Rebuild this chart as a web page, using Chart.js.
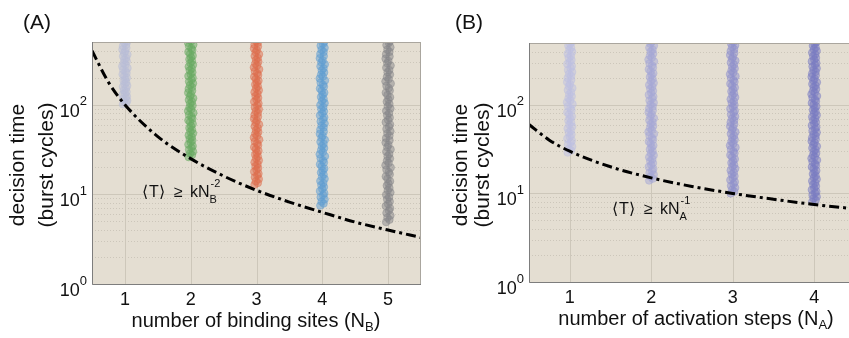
<!DOCTYPE html>
<html>
<head>
<meta charset="utf-8">
<script src="https://cdn.jsdelivr.net/npm/chart.js@4.4.1/dist/chart.umd.min.js"></script>
<style>
  html, body { margin: 0; padding: 0; background: #fff; overflow: hidden; }
  #wrap { position: relative; width: 849px; height: 338px; overflow: hidden; }
  canvas { position: absolute; top: 0; }
</style>
</head>
<body>
<div id="wrap">
  <canvas id="chartA" width="430" height="338" style="left:0"></canvas>
  <canvas id="chartB" width="430" height="338" style="left:430px"></canvas>
</div>
<script>
// ---- datos ----
const catA = [1, 2, 3, 4, 5];
const catB = [1, 2, 3, 4];
const xTicksA = ['1', '2', '3', '4', '5'];
const xTicksB = ['1', '2', '3', '4'];
const yExponents = [0, 1, 2];

// desplazamiento horizontal de los puntos dentro de cada franja
const jitter = [-0.03, 0.02, -0.01, 0.035, -0.025, 0.012, 0.03, -0.035, 0.0, 0.025, -0.015, 0.015, -0.03, 0.035,
  -0.005, 0.02, -0.02, 0.005, 0.03, -0.01, -0.035, 0.025, 0.01, -0.025, 0.04, -0.04, 0.008, -0.018, 0.028,
  -0.008, 0.018, -0.028, 0.038, -0.012, 0.004, -0.038, 0.022];

// tiempos de decisión, panel A (N_B = 1..5)
const timesA1 = [101, 104, 108, 111, 116, 120, 124, 130, 135, 139, 145, 152, 158, 163, 170, 178, 185, 192, 200, 209,
  218, 226, 236, 247, 256, 268, 280, 291, 305, 318, 332, 347, 362, 378, 395, 412, 430, 450, 470, 492, 510];
const timesA2 = [26, 27.5, 28.5, 30, 31.5, 33, 34.5, 36, 38, 40, 41.5, 43.5, 45.5, 48, 50, 52.5, 55, 58, 61, 64, 67,
  70, 73.5, 77, 81, 85, 89, 93, 98, 103, 108, 113, 118, 124, 130, 136, 143, 150, 157, 165, 173, 181, 190, 199, 209,
  219, 230, 241, 253, 265, 278, 292, 306, 321, 336, 352, 369, 387, 406, 426, 447, 468, 490, 512];
const timesA3 = [12.8, 13.4, 14, 14.8, 15.5, 16.3, 17, 17.9, 18.8, 19.7, 20.7, 21.7, 22.8, 23.9, 25.1, 26.4, 27.7, 29,
  30.5, 32, 33.6, 35.3, 37, 38.9, 40.8, 42.9, 45, 47.3, 49.6, 52, 54.7, 57.4, 60.3, 63.3, 66.5, 69.8, 73.3, 77, 80.8,
  84.8, 89, 93.5, 98, 103, 108, 114, 119, 125, 132, 138, 145, 152, 160, 168, 176, 185, 194, 204, 214, 225, 236, 248,
  260, 273, 287, 301, 316, 332, 349, 366, 384, 404, 424, 445, 467, 490, 514];
const timesA4 = [7.5, 7.9, 8.3, 8.8, 9.3, 9.8, 10.3, 10.9, 11.5, 12.1, 12.7, 13.4, 14.1, 14.9, 15.7, 16.6, 17.5, 18.4,
  19.4, 20.5, 21.6, 22.7, 24, 25.3, 26.6, 28, 29.6, 31.2, 32.8, 34.6, 36.5, 38.5, 40.5, 42.7, 45, 47.4, 50, 52.7, 55.5,
  58.5, 61.7, 65, 68.5, 72.2, 76, 80.2, 84.5, 89, 93.8, 98.9, 104, 110, 116, 122, 129, 136, 143, 151, 159, 167, 176,
  186, 196, 206, 217, 229, 241, 254, 268, 282, 297, 313, 330, 348, 367, 387, 408, 430, 453, 477, 503];
const timesA5 = [4.9, 5.2, 5.5, 5.8, 6.2, 6.6, 7, 7.4, 7.8, 8.3, 8.8, 9.3, 9.9, 10.5, 11.1, 11.8, 12.5, 13.2, 14, 14.9,
  15.8, 16.7, 17.7, 18.8, 19.9, 21.1, 22.4, 23.7, 25.1, 26.6, 28.2, 29.9, 31.7, 33.6, 35.6, 37.8, 40, 42.4, 45, 47.7,
  50.5, 53.6, 56.8, 60.2, 63.8, 67.6, 71.7, 76, 80.5, 85.4, 90.5, 95.9, 102, 108, 114, 121, 128, 136, 144, 153, 162,
  172, 182, 193, 204, 217, 230, 243, 258, 273, 290, 307, 326, 345, 366, 388, 411, 436, 462, 490, 515];

// tiempos de decisión, panel B (N_A = 1..4)
const timesB1 = [29, 30.5, 32, 33.8, 35.6, 37.5, 39.5, 41.6, 43.9, 46.2, 48.7, 51.4, 54.1, 57, 60.1, 63.4, 66.8, 70.4,
  74.2, 78.2, 82.4, 86.9, 91.6, 96.5, 102, 107, 113, 119, 125, 132, 139, 147, 155, 163, 172, 181, 191, 201, 212, 223,
  235, 248, 261, 275, 290, 306, 322, 340, 358, 377, 398, 419, 442, 466, 491, 515];
const timesB2 = [14, 14.7, 15.5, 16.3, 17.1, 18, 19, 20, 21, 22.1, 23.2, 24.4, 25.7, 27, 28.4, 29.9, 31.5, 33.1, 34.8,
  36.6, 38.5, 40.5, 42.6, 44.8, 47.2, 49.6, 52.2, 54.9, 57.8, 60.8, 64, 67.3, 70.8, 74.5, 78.4, 82.5, 86.8, 91.3, 96,
  101, 106, 112, 118, 124, 130, 137, 144, 152, 160, 168, 177, 186, 196, 206, 217, 228, 240, 252, 265, 279, 294, 309,
  325, 342, 360, 379, 399, 420, 442, 465, 489, 515];
const timesB3 = [10, 10.5, 11, 11.6, 12.2, 12.8, 13.5, 14.2, 14.9, 15.7, 16.5, 17.3, 18.2, 19.1, 20.1, 21.1, 22.2, 23.3,
  24.5, 25.8, 27.1, 28.5, 30, 31.5, 33.1, 34.8, 36.6, 38.5, 40.5, 42.6, 44.8, 47.1, 49.5, 52, 54.7, 57.5, 60.5, 63.6,
  66.9, 70.3, 73.9, 77.7, 81.7, 85.9, 90.3, 95, 99.9, 105, 110, 116, 122, 128, 135, 142, 149, 157, 165, 173, 182, 191,
  201, 211, 222, 233, 245, 258, 271, 285, 300, 315, 331, 348, 366, 385, 405, 426, 448, 471, 495, 515];
const timesB4 = [8, 8.4, 8.8, 9.2, 9.6, 10.1, 10.5, 11, 11.5, 12.1, 12.6, 13.2, 13.8, 14.5, 15.1, 15.8, 16.6, 17.3,
  18.1, 19, 19.9, 20.8, 21.7, 22.7, 23.8, 24.9, 26, 27.2, 28.5, 29.8, 31.2, 32.6, 34.1, 35.7, 37.3, 39, 40.8, 42.7,
  44.7, 46.7, 48.9, 51.1, 53.5, 55.9, 58.5, 61.2, 64, 67, 70, 73.3, 76.6, 80.2, 83.9, 87.7, 91.8, 96, 100, 105, 110,
  115, 120, 126, 132, 138, 144, 151, 158, 165, 172, 180, 189, 197, 207, 216, 226, 237, 248, 259, 271, 284, 297, 310,
  325, 340, 355, 372, 389, 407, 425, 445, 466, 487, 510];

// cota teórica <T> >= k N^-2 (A) y k N^-1 (B)
const boundAx = [0.5, 0.75, 1, 1.5, 2, 2.5, 3, 3.5, 4, 4.5, 5, 5.5];
const boundAy = [400, 178, 100, 44, 25, 16, 11.1, 8.2, 6.3, 4.9, 4.0, 3.3];
const boundBx = [0.5, 0.75, 1, 1.5, 2, 2.5, 3, 3.5, 4, 4.5];
const boundBy = [60, 40, 30, 20, 15, 12, 10, 8.6, 7.5, 6.7];

const coloresA = [[186, 190, 216], [104, 170, 98], [222, 110, 78], [96, 158, 210], [134, 134, 138]];
const coloresB = [[190, 192, 226], [166, 168, 214], [144, 146, 204], [122, 124, 194]];

const FONT = '"Liberation Sans", Arial, Helvetica, sans-serif';

function rgba(c, a) {
    return 'rgba(' + c[0] + ',' + c[1] + ',' + c[2] + ',' + a + ')';
}

function franja(x0, tiempos, color, escala) {
    return {
        data: tiempos.map((t, i) => ({ x: x0 + jitter[i % jitter.length] * escala, y: t })),
        backgroundColor: rgba(color, 0.5),
        borderColor: rgba(color, 0.4),
        borderWidth: 1,
        pointRadius: 3.8,
        clip: 0
    };
}

function curva(xs, ys) {
    return {
        data: xs.map((x, i) => ({ x: x, y: ys[i] })),
        showLine: true,
        pointRadius: 0,
        borderColor: '#000',
        borderWidth: 3,
        borderDash: [10, 4, 3, 4],
        cubicInterpolationMode: 'monotone',
        clip: 0
    };
}

// plugin: fondo, rejilla, marco, etiquetas y textos
function pluginPanel(cfg) {
    return {
        id: 'panel' + cfg.letra,
        beforeDatasetsDraw(chart) {
            const ctx = chart.ctx;
            const a = chart.chartArea;
            const xs = chart.scales.x, ys = chart.scales.y;
            ctx.save();
            ctx.fillStyle = '#e4ded2';
            ctx.fillRect(a.left, a.top, a.right - a.left, a.bottom - a.top);
            ctx.lineWidth = 1;
            // rejilla menor (punteada)
            ctx.strokeStyle = '#ccc6ba';
            ctx.setLineDash([1, 2]);
            for (let d = 1; d <= 100; d *= 10) {
                for (let m = 2; m <= 9; m++) {
                    const v = d * m;
                    if (v > 500) continue;
                    const py = Math.round(ys.getPixelForValue(v)) + 0.5;
                    ctx.beginPath(); ctx.moveTo(a.left, py); ctx.lineTo(a.right, py); ctx.stroke();
                }
            }
            // rejilla mayor
            ctx.setLineDash([]);
            ctx.strokeStyle = '#cdc7ba';
            yExponents.forEach(e => {
                const py = Math.round(ys.getPixelForValue(Math.pow(10, e))) + 0.5;
                ctx.beginPath(); ctx.moveTo(a.left, py); ctx.lineTo(a.right, py); ctx.stroke();
            });
            cfg.cats.forEach(c => {
                const px = Math.round(xs.getPixelForValue(c)) + 0.5;
                ctx.beginPath(); ctx.moveTo(px, a.top); ctx.lineTo(px, a.bottom); ctx.stroke();
            });
            ctx.restore();
        },
        afterDatasetsDraw(chart) {
            const ctx = chart.ctx;
            const a = chart.chartArea;
            const xs = chart.scales.x, ys = chart.scales.y;
            ctx.save();
            // marco
            ctx.lineWidth = 1;
            ctx.strokeStyle = '#aaa69e';
            ctx.beginPath();
            ctx.moveTo(a.left, a.top + 0.5); ctx.lineTo(a.right, a.top + 0.5);
            ctx.moveTo(a.right - 0.5, a.top); ctx.lineTo(a.right - 0.5, a.bottom);
            ctx.stroke();
            ctx.strokeStyle = '#7d7d7d';
            ctx.beginPath();
            ctx.moveTo(a.left + 0.5, a.top); ctx.lineTo(a.left + 0.5, a.bottom + 0.5);
            ctx.lineTo(a.right, a.bottom + 0.5);
            ctx.stroke();

            ctx.fillStyle = '#111';
            // etiquetas eje y: 10^e
            yExponents.forEach(e => {
                const py = ys.getPixelForValue(Math.pow(10, e));
                ctx.font = '13px ' + FONT;
                ctx.textAlign = 'right';
                ctx.textBaseline = 'middle';
                const wSup = ctx.measureText(String(e)).width;
                const xr = a.left - 5;
                ctx.fillText(String(e), xr, py - 3);
                ctx.font = '18px ' + FONT;
                ctx.fillText('10', xr - wSup, py + 7);
            });
            // etiquetas eje x
            ctx.font = '18px ' + FONT;
            ctx.textAlign = 'center';
            ctx.textBaseline = 'middle';
            cfg.cats.forEach((c, i) => {
                ctx.fillText(cfg.xLabels[i], xs.getPixelForValue(c), a.bottom + 16);
            });
            // título eje x con subíndice
            ctx.textBaseline = 'alphabetic';
            ctx.textAlign = 'left';
            ctx.font = '20px ' + FONT;
            const t1 = cfg.xTitle + ' (N';
            const w1 = ctx.measureText(t1).width;
            ctx.font = '13px ' + FONT;
            const w2 = ctx.measureText(cfg.sub).width;
            ctx.font = '20px ' + FONT;
            const w3 = ctx.measureText(')').width;
            let x0 = cfg.xTitleX - (w1 + w2 + w3) / 2;
            const yb = a.bottom + 43;
            ctx.fillText(t1, x0, yb);
            ctx.font = '13px ' + FONT;
            ctx.fillText(cfg.sub, x0 + w1, yb + 4);
            ctx.font = '20px ' + FONT;
            ctx.fillText(')', x0 + w1 + w2, yb);
            // título eje y (dos líneas, girado)
            ctx.save();
            ctx.translate(0, cfg.yTitleY);
            ctx.rotate(-Math.PI / 2);
            ctx.textAlign = 'center';
            ctx.textBaseline = 'middle';
            ctx.font = '21px ' + FONT;
            ctx.fillText('decision time', 0, cfg.yTitleX[0]);
            ctx.fillText('(burst cycles)', 0, cfg.yTitleX[1]);
            ctx.restore();
            // letra del panel
            ctx.font = '21px ' + FONT;
            ctx.textAlign = 'left';
            ctx.textBaseline = 'alphabetic';
            ctx.fillText('(' + cfg.letra + ')', cfg.letraX, 29);
            // anotación <T> >= k N^exp
            const ax = cfg.anotX, ay = cfg.anotY;
            ctx.textBaseline = 'middle';
            ctx.font = '16px "DejaVu Sans", ' + FONT;
            ctx.fillText('\u27E8', ax, ay);
            ctx.font = '16px ' + FONT;
            ctx.fillText('T', ax + 7, ay);
            ctx.font = '16px "DejaVu Sans", ' + FONT;
            ctx.fillText('\u27E9', ax + 17, ay);
            ctx.font = '16px ' + FONT;
            ctx.fillText('\u2265', ax + 32, ay);
            ctx.fillText('kN', ax + 48, ay);
            const wk = ctx.measureText('kN').width;
            ctx.font = '11px ' + FONT;
            ctx.fillText(cfg.sub, ax + 48 + wk, ay + 7);
            ctx.fillText(cfg.exp, ax + 48 + wk + 1, ay - 9);
            ctx.restore();
        }
    };
}

function crearPanel(id, cfg) {
    const datasets = [curva(cfg.boundX, cfg.boundY)];
    cfg.cats.forEach((c, i) => {
        datasets.push(franja(c, cfg.series[i], cfg.colores[i], cfg.escala));
    });
    new Chart(document.getElementById(id), {
        type: 'scatter',
        data: { datasets: datasets },
        options: {
            responsive: false,
            animation: false,
            devicePixelRatio: 1,
            layout: { padding: cfg.padding },
            plugins: { legend: { display: false }, tooltip: { enabled: false } },
            scales: {
                x: { type: 'linear', min: cfg.xMin, max: cfg.xMax, display: false },
                y: { type: 'logarithmic', min: 1, max: 500, display: false }
            }
        },
        plugins: [pluginPanel(cfg)]
    });
}

crearPanel('chartA', {
    letra: 'A', letraX: 23,
    cats: catA, xLabels: xTicksA, xMin: 0.5, xMax: 5.5,
    series: [timesA1, timesA2, timesA3, timesA4, timesA5],
    colores: coloresA, escala: 1,
    boundX: boundAx, boundY: boundAy,
    padding: { left: 92, right: 9, top: 42, bottom: 54 },
    xTitle: 'number of binding sites', sub: 'B', exp: '-2', xTitleX: 256,
    yTitleX: [18, 47], yTitleY: 165,
    anotX: 142, anotY: 193
});

crearPanel('chartB', {
    letra: 'B', letraX: 25,
    cats: catB, xLabels: xTicksB, xMin: 0.5, xMax: 4.5,
    series: [timesB1, timesB2, timesB3, timesB4],
    colores: coloresB, escala: 0.85,
    boundX: boundBx, boundY: boundBy,
    padding: { left: 99, right: 4, top: 43, bottom: 56 },
    xTitle: 'number of activation steps', sub: 'A', exp: '-1', xTitleX: 266,
    yTitleX: [31, 53], yTitleY: 165,
    anotX: 182, anotY: 210
});
</script>
</body>
</html>
